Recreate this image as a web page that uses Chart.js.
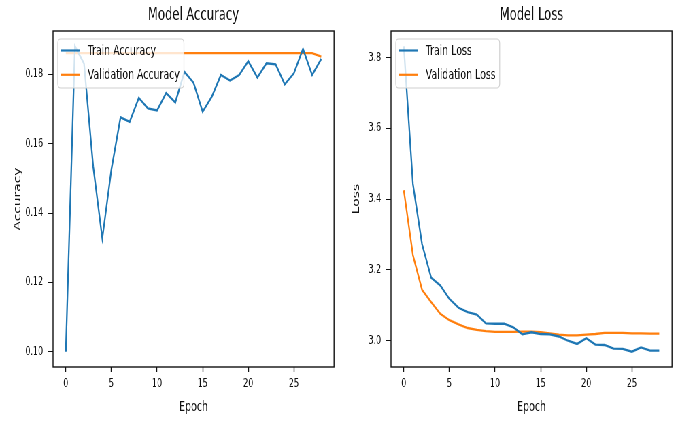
<!DOCTYPE html>
<html>
<head>
<meta charset="utf-8">
<script src="https://cdn.jsdelivr.net/npm/chart.js@4/dist/chart.umd.min.js"></script>
<style>
    body { margin: 0; background: #fff; overflow: hidden; }
    /* the reference figure is squeezed horizontally, so the charts are drawn wider and scaled */
    #stage { position: absolute; left: 0; top: 0; width: 997px; height: 422px; transform: scaleX(0.68004); transform-origin: 0 0; }
    canvas { position: absolute; top: 0; }
</style>
</head>
<body>
<div id="stage">
    <canvas id="accuracyChart" width="498" height="422" style="left:0"></canvas>
    <canvas id="lossChart" width="499" height="422" style="left:498px"></canvas>
</div>
<script>
const epochs = [0, 1, 2, 3, 4, 5, 6, 7, 8, 9, 10, 11, 12, 13, 14, 15, 16, 17, 18, 19, 20, 21, 22, 23, 24, 25, 26, 27, 28];

const trainAccuracy = [0.1000, 0.1881, 0.1831, 0.1535, 0.1327, 0.1526, 0.1676, 0.1663, 0.1732, 0.1702,
    0.1696, 0.1746, 0.1719, 0.1807, 0.1776, 0.1692, 0.1735, 0.1798, 0.1782, 0.1798,
    0.1838, 0.1791, 0.1832, 0.1829, 0.1771, 0.1803, 0.1873, 0.1798, 0.1844];
const valAccuracy = [0.1861, 0.1861, 0.1861, 0.1861, 0.1861, 0.1861, 0.1861, 0.1861, 0.1861, 0.1861,
    0.1861, 0.1861, 0.1861, 0.1861, 0.1861, 0.1861, 0.1861, 0.1861, 0.1861, 0.1861,
    0.1861, 0.1861, 0.1861, 0.1861, 0.1861, 0.1861, 0.1861, 0.1861, 0.1851];

const trainLoss = [3.832, 3.443, 3.273, 3.178, 3.156, 3.118, 3.093, 3.081, 3.074, 3.049,
    3.048, 3.048, 3.038, 3.018, 3.024, 3.019, 3.018, 3.012, 3.000, 2.991,
    3.007, 2.989, 2.988, 2.978, 2.977, 2.969, 2.981, 2.972, 2.972];
const valLoss = [3.425, 3.242, 3.144, 3.109, 3.076, 3.058, 3.046, 3.036, 3.031, 3.027,
    3.025, 3.025, 3.025, 3.026, 3.026, 3.024, 3.021, 3.017, 3.015, 3.015,
    3.017, 3.019, 3.022, 3.022, 3.022, 3.021, 3.021, 3.020, 3.020];

const epochTicks = { min: -1.4, max: 29.4, step: 5 };
const accuracyTicks = { min: 0.0956, max: 0.1925, step: 0.02 };
const lossTicks = { min: 2.9258, max: 3.8752, step: 0.2 };

const BLUE = '#1f77b4';
const ORANGE = '#ff7f0e';
const INK = '#111111';
const FONT = 'DejaVu Sans';

Chart.defaults.font.family = FONT;
Chart.defaults.color = INK;

// matplotlib style: full box round the axes and a framed legend inside the plot
const frameAndLegend = {
    id: 'frameAndLegend',
    afterDatasetsDraw(chart) {
        const { ctx, chartArea: a } = chart;
        ctx.save();
        ctx.strokeStyle = INK;
        ctx.lineWidth = 1.4;
        ctx.strokeRect(a.left, a.top, a.right - a.left, a.bottom - a.top);

        ctx.font = '13.8px "' + FONT + '"';
        const sets = chart.data.datasets;
        const textW = Math.max(...sets.map(d => ctx.measureText(d.label).width));
        const x0 = a.left + 7;
        const y0 = a.top + 8;
        const w = 5 + 28 + 11 + textW + 6;
        const h = 49;
        ctx.beginPath();
        ctx.roundRect(x0, y0, w, h, 4);
        ctx.fillStyle = 'rgba(255,255,255,0.8)';
        ctx.fill();
        ctx.strokeStyle = '#d0d0d0';
        ctx.lineWidth = 1.2;
        ctx.stroke();

        sets.forEach((d, i) => {
            const cy = y0 + 11.5 + i * 24.3;
            ctx.beginPath();
            ctx.moveTo(x0 + 5, cy);
            ctx.lineTo(x0 + 33, cy);
            ctx.strokeStyle = d.borderColor;
            ctx.lineWidth = 2.2;
            ctx.stroke();
            ctx.fillStyle = INK;
            ctx.textBaseline = 'middle';
            ctx.textAlign = 'left';
            ctx.fillText(d.label, x0 + 44, cy + 1);
        });
        ctx.restore();
    }
};

function series(values, label, color) {
    return {
        label: label,
        data: epochs.map((e, i) => ({ x: e, y: values[i] })),
        borderColor: color,
        backgroundColor: color,
        borderWidth: 2.3,
        pointRadius: 0,
        tension: 0,
        fill: false
    };
}

function makeChart(id, title, yTitle, datasets, yRange, yWidth, rightPad) {
    const ctx = document.getElementById(id).getContext('2d');
    return new Chart(ctx, {
        type: 'line',
        data: { datasets: datasets },
        plugins: [frameAndLegend],
        options: {
            responsive: false,
            animation: false,
            devicePixelRatio: 1,
            layout: { padding: { left: 0, right: rightPad, top: 0, bottom: 0 } },
            plugins: {
                legend: { display: false },
                tooltip: { enabled: false },
                title: {
                    display: true,
                    fullSize: false,
                    text: title,
                    color: INK,
                    font: { size: 17, weight: 'normal' },
                    padding: { top: 5, bottom: 5.6 }
                }
            },
            scales: {
                x: {
                    type: 'linear',
                    min: epochTicks.min,
                    max: epochTicks.max,
                    ticks: { stepSize: epochTicks.step, includeBounds: false, maxRotation: 0, padding: 4.5, color: INK, font: { size: 11.8 } },
                    grid: { drawOnChartArea: false, tickLength: 5, tickWidth: 1.4, color: INK },
                    border: { display: false },
                    title: { display: true, text: 'Epoch', color: INK, font: { size: 13.8 }, padding: { top: 0, bottom: 6 } },
                    afterFit: scale => { scale.height = 55; }
                },
                y: {
                    type: 'linear',
                    min: yRange.min,
                    max: yRange.max,
                    ticks: { stepSize: yRange.step, includeBounds: false, padding: 7, color: INK, font: { size: 11.8 } },
                    grid: { drawOnChartArea: false, tickLength: 7.4, tickWidth: 1, color: INK },
                    border: { display: false },
                    title: { display: true, text: yTitle, color: INK, font: { size: 13.8 }, padding: { top: 18, bottom: 0 } },
                    afterFit: scale => { scale.width = yWidth; }
                }
            }
        }
    });
}

makeChart('accuracyChart', 'Model Accuracy', 'Accuracy', [
    series(trainAccuracy, 'Train Accuracy', BLUE),
    series(valAccuracy, 'Validation Accuracy', ORANGE)
], accuracyTicks, 78, 6.8);

makeChart('lossChart', 'Model Loss', 'Loss', [
    series(trainLoss, 'Train Loss', BLUE),
    series(valLoss, 'Validation Loss', ORANGE)
], lossTicks, 77, 8.8);
</script>
</body>
</html>
